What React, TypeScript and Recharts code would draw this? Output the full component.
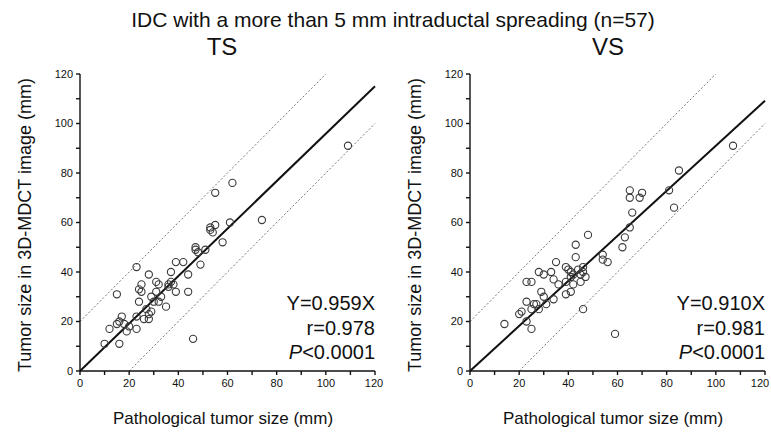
import React from 'react';
import {
  ScatterChart,
  Scatter,
  XAxis,
  YAxis,
  ReferenceLine,
} from 'recharts';

// TS panel: pathological size (x) vs 3D-MDCT size (y), mm
const tsX = [10, 16, 12, 15, 17, 16, 18, 19, 15, 23, 23, 23, 24, 25, 25, 24, 26, 28, 28, 29, 30, 32, 31, 28, 31, 32, 35, 36, 37, 38, 39, 39, 42, 44, 44, 46, 47, 48, 49, 51, 53, 54, 55, 55, 58, 61, 62, 74, 109, 27, 33, 20, 36, 29, 47, 53, 37];
const tsY = [11, 11, 17, 19, 22, 20, 19, 16, 31, 17, 22, 42, 33, 35, 32, 28, 21, 21, 23, 24, 28, 28, 32, 39, 36, 35, 26, 35, 40, 35, 32, 44, 44, 32, 39, 13, 50, 48, 43, 49, 57, 56, 59, 72, 52, 60, 76, 61, 91, 25, 30, 18, 34, 30, 49, 58, 36];

// VS panel
const vsX = [14, 20, 21, 23, 25, 23, 25, 28, 27, 31, 29, 30, 34, 23, 25, 28, 30, 33, 34, 35, 39, 39, 41, 41, 41, 42, 43, 43, 45, 45, 46, 46, 47, 46, 48, 54, 54, 56, 59, 62, 63, 65, 66, 65, 65, 69, 70, 81, 83, 85, 107, 40, 42, 39, 44, 36, 26];
const vsY = [19, 23, 24, 20, 17, 28, 25, 25, 27, 27, 32, 30, 29, 36, 36, 40, 39, 40, 37, 44, 31, 42, 40, 38, 32, 35, 46, 51, 36, 39, 40, 42, 38, 25, 55, 45, 47, 44, 15, 50, 54, 58, 64, 73, 70, 70, 72, 73, 66, 81, 91, 41, 39, 36, 41, 35, 27];

const axisTicks = [0, 10, 20, 30, 40, 50, 60, 70, 80, 90, 100, 110, 120];
const bandOffset = 20;

const tsStats = { slope: 0.959, r: '0.978', p: '0.0001' };
const vsStats = { slope: 0.91, r: '0.981', p: '0.0001' };

const toPoints = (xs: number[], ys: number[]) => xs.map((x, i) => ({ x, y: ys[i] }));

const Ring = (props: any) => (
  <circle cx={props.cx} cy={props.cy} r={3.6} fill="none" stroke="#3a3a3a" strokeWidth={1.1} />
);

const font = 'Liberation Sans, Arial, Helvetica, sans-serif';
const tickFont = { fontSize: 11, fill: '#111', fontFamily: font };
const fmt = (v: number) => (v % 20 === 0 ? String(v) : '');

// x tick label, kept inside the panel's right edge
const makeXTick = (maxX: number) => (props: any) => {
  const { x, y, payload } = props;
  const label = fmt(payload.value);
  if (!label) return <g />;
  return (
    <text
      x={Math.min(x, maxX)}
      y={y + 10}
      textAnchor="middle"
      fontSize={11}
      fontFamily={font}
      fill="#111"
    >
      {label}
    </text>
  );
};

type PanelProps = {
  xs: number[];
  ys: number[];
  slope: number;
  left: number;
  width: number;
  right: number;
};

const Panel = ({ xs, ys, slope, left, width, right }: PanelProps) => (
  <div style={{ position: 'absolute', left, top: 0 }}>
    <ScatterChart
      width={width}
      height={432}
      margin={{ top: 74, right, bottom: 31, left: 50 }}
    >
      <XAxis
        type="number"
        dataKey="x"
        domain={[0, 120]}
        ticks={axisTicks}
        interval={0}
        height={30}
        tickSize={4}
        tick={makeXTick(width - 11)}
        stroke="#111"
        strokeWidth={1.4}
        allowDataOverflow
      />
      <YAxis
        type="number"
        dataKey="y"
        domain={[0, 120]}
        ticks={axisTicks}
        tickFormatter={fmt}
        interval={0}
        width={30}
        tickSize={4}
        tickMargin={3}
        tick={tickFont}
        stroke="#111"
        strokeWidth={1.4}
        allowDataOverflow
      />
      <ReferenceLine
        segment={[{ x: 0, y: bandOffset }, { x: 120 - bandOffset, y: 120 }]}
        stroke="#777"
        strokeDasharray="2 2"
        strokeWidth={1}
      />
      <ReferenceLine
        segment={[{ x: bandOffset, y: 0 }, { x: 120, y: 120 - bandOffset }]}
        stroke="#777"
        strokeDasharray="2 2"
        strokeWidth={1}
      />
      <ReferenceLine
        segment={[{ x: 0, y: 0 }, { x: 120, y: 120 * slope }]}
        stroke="#111"
        strokeWidth={2}
      />
      <Scatter data={toPoints(xs, ys)} shape={Ring} isAnimationActive={false} />
    </ScatterChart>
  </div>
);

const Stats = ({ x, s }: { x: number; s: typeof tsStats }) => (
  <g fontSize={20} fontFamily={font} fill="#111" textAnchor="end">
    <text x={x} y={310}>Y={s.slope.toFixed(3)}X</text>
    <text x={x} y={335}>r={s.r}</text>
    <text x={x} y={359}>
      <tspan fontStyle="italic">P</tspan>&lt;{s.p}
    </text>
  </g>
);

export default function App() {
  return (
    <div
      style={{
        position: 'absolute',
        left: 0,
        top: 0,
        width: 771,
        height: 432,
        background: '#fff',
        overflow: 'hidden',
      }}
    >
      <Panel xs={tsX} ys={tsY} slope={tsStats.slope} left={0} width={385} right={10} />
      <Panel xs={vsX} ys={vsY} slope={vsStats.slope} left={390} width={381} right={6} />
      <svg
        width={771}
        height={432}
        style={{ position: 'absolute', left: 0, top: 0, pointerEvents: 'none' }}
      >
        <text x={393} y={27} textAnchor="middle" fontSize={21} fontFamily={font} fill="#111">
          IDC with a more than 5 mm intraductal spreading (n=57)
        </text>
        <text x={222} y={55} textAnchor="middle" fontSize={24} fontFamily={font} fill="#111">
          TS
        </text>
        <text x={608} y={55} textAnchor="middle" fontSize={24} fontFamily={font} fill="#111">
          VS
        </text>
        <text
          transform="translate(31,225) rotate(-90)"
          textAnchor="middle"
          fontSize={18}
          fontFamily={font}
          fill="#111"
        >
          Tumor size in 3D-MDCT image (mm)
        </text>
        <text
          transform="translate(421,225) rotate(-90)"
          textAnchor="middle"
          fontSize={18}
          fontFamily={font}
          fill="#111"
        >
          Tumor size in 3D-MDCT image (mm)
        </text>
        <text x={223} y={424} textAnchor="middle" fontSize={17} fontFamily={font} fill="#111">
          Pathological tumor size (mm)
        </text>
        <text x={613} y={424} textAnchor="middle" fontSize={17} fontFamily={font} fill="#111">
          Pathological tumor size (mm)
        </text>
        <Stats x={375} s={tsStats} />
        <Stats x={765} s={vsStats} />
      </svg>
    </div>
  );
}
